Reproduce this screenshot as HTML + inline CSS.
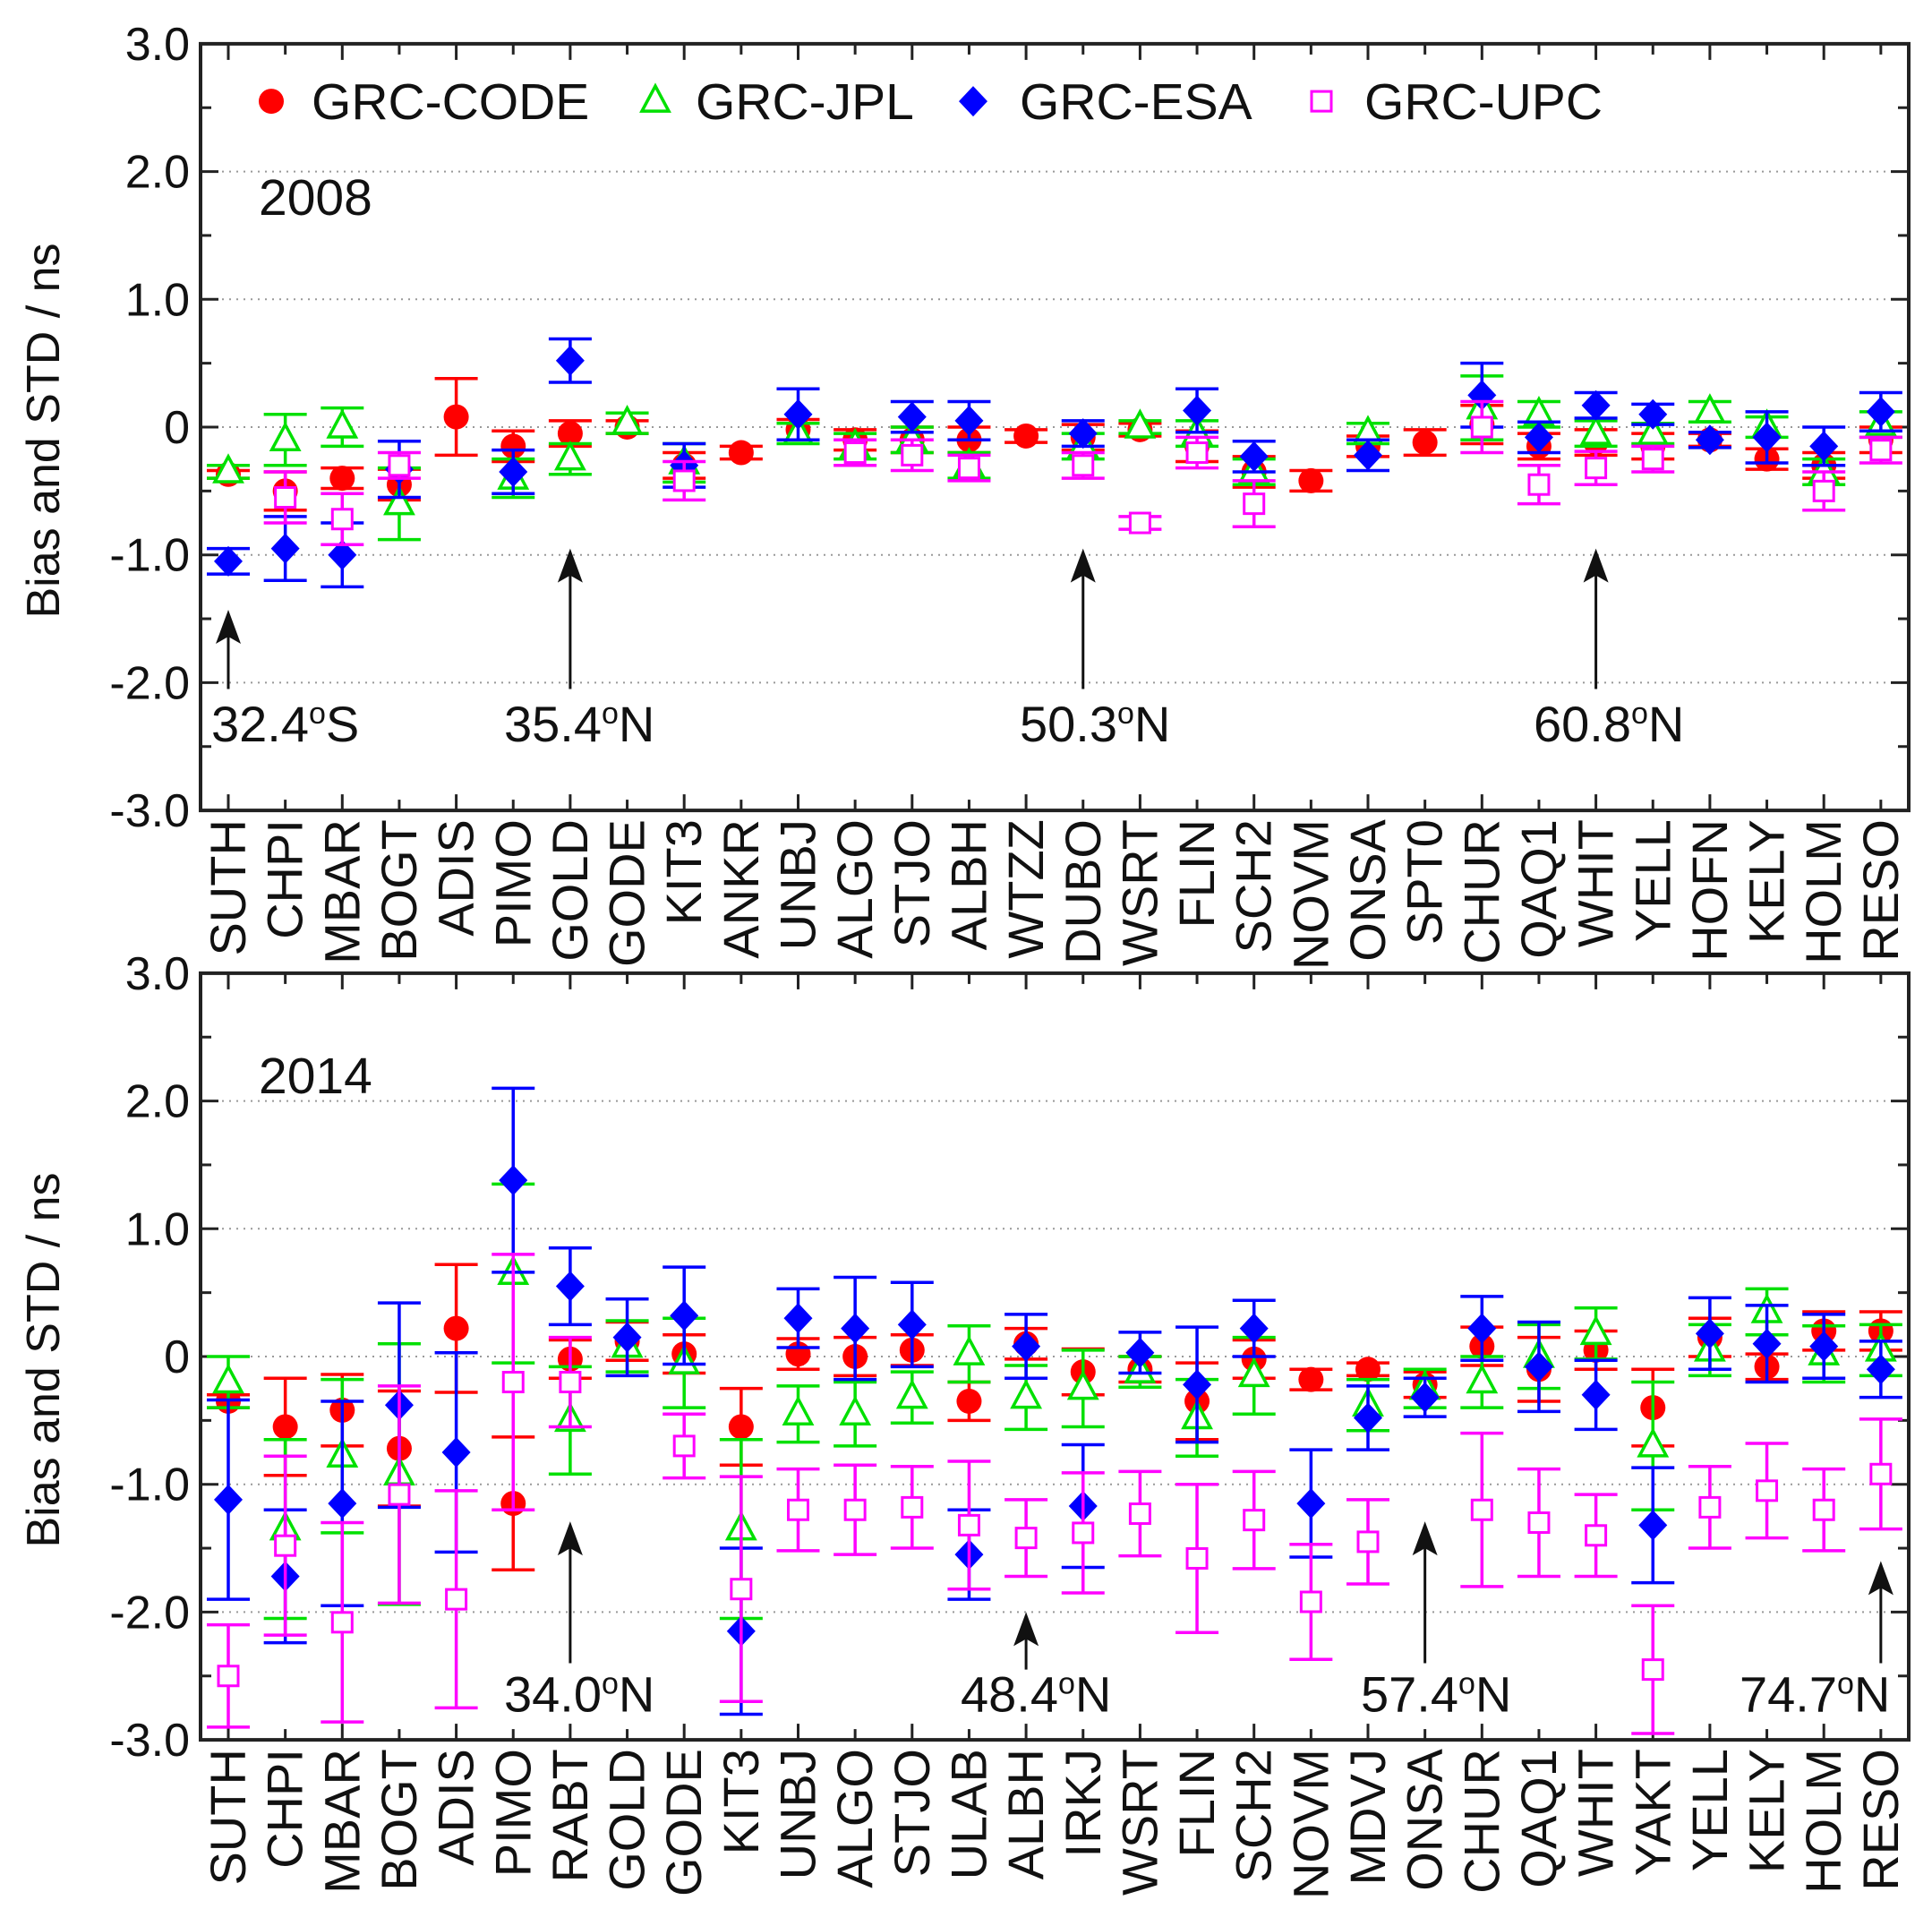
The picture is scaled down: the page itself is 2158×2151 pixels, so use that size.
<!DOCTYPE html>
<html><head><meta charset="utf-8"><style>
html,body{margin:0;padding:0;background:#fff;}
svg{display:block;font-family:"Liberation Sans",Arial,sans-serif;}
</style></head><body>
<svg id="s" width="2158" height="2151" viewBox="0 0 2158 2151" xmlns="http://www.w3.org/2000/svg"></svg>
<script>
const S=document.getElementById('s');
let h='';
const L=224,R=2132,X0=255,DX=63.65,K=142.7;
const C={c:'#ff0000',j:'#00e000',e:'#0000ff',u:'#ff00ff'};
function panel(y0,stations,data,arrows,year,legend){
  const Y=v=>y0-v*K;
  const top=Y(3),bot=Y(-3);
  for(const v of [2,1,0,-1,-2]) h+=`<line x1="${L}" x2="${R}" y1="${Y(v)}" y2="${Y(v)}" stroke="#999" stroke-width="2" stroke-dasharray="2,6"/>`;
  for(let v=-3;v<=3;v+=0.5){const maj=Number.isInteger(v);const l=maj?20:12;
    h+=`<line x1="${L}" x2="${L+l}" y1="${Y(v)}" y2="${Y(v)}" stroke="#222" stroke-width="3"/>`;
    h+=`<line x1="${R}" x2="${R-l}" y1="${Y(v)}" y2="${Y(v)}" stroke="#222" stroke-width="3"/>`;
    if(maj){const t=v===0?'0':v.toFixed(1);h+=`<text x="212" y="${Y(v)+18}" font-size="52" text-anchor="end" fill="#111">${t}</text>`;}
  }
  stations.forEach((s,i)=>{const x=X0+i*DX;const l=i%2?12:18;
    h+=`<line x1="${x}" x2="${x}" y1="${bot}" y2="${bot-l}" stroke="#222" stroke-width="3"/>`;
    h+=`<line x1="${x}" x2="${x}" y1="${top}" y2="${top+l}" stroke="#222" stroke-width="3"/>`;
    h+=`<text transform="translate(${x+19},${bot+10}) rotate(-90)" font-size="56" text-anchor="end" fill="#111">${s}</text>`;
  });
  h+=`<rect x="${L}" y="${top}" width="${R-L}" height="${bot-top}" fill="none" stroke="#222" stroke-width="4"/>`;
  h+=`<text transform="translate(66,${y0+4}) rotate(-90)" font-size="52" text-anchor="middle" fill="#111">Bias and STD / ns</text>`;
  h+=`<text x="289" y="${Y(year[1])+20}" font-size="57" fill="#111">${year[0]}</text>`;
  for(const a of arrows){const x=X0+a[0]*DX;
    h+=`<line x1="${x}" x2="${x}" y1="${Y(a[2])}" y2="${Y(a[1])+20}" stroke="#111" stroke-width="3"/>`;
    h+=`<polygon points="${x},${Y(a[1])} ${x-14},${Y(a[1])+38} ${x},${Y(a[1])+30} ${x+14},${Y(a[1])+38}" fill="#111"/>`;
    h+=`<text x="${a[3]}" y="${Y(a[4])+20}" font-size="56" fill="#111">${a[5]}<tspan font-size="34" dy="-20">o</tspan><tspan dy="20">${a[6]}</tspan></text>`;
  }
  const order=['c','j','e','u'];
  order.forEach((k,ki)=>{
    data.forEach((d,i)=>{const p=d[ki];if(!p)return;const x=X0+i*DX,y=Y(p[0]),e=p[1]*K,col=C[k];
      h+=`<g stroke="${col}" stroke-width="3.5"><line x1="${x}" x2="${x}" y1="${y-e}" y2="${y+e}"/><line x1="${x-24}" x2="${x+24}" y1="${y-e}" y2="${y-e}"/><line x1="${x-24}" x2="${x+24}" y1="${y+e}" y2="${y+e}"/></g>`;
      h+=marker(k,x,y);
    });
  });
  if(legend){const y=Y(2.55);
    const items=[['c',303,'GRC-CODE',348],['j',732,'GRC-JPL',777],['e',1087,'GRC-ESA',1139],['u',1476,'GRC-UPC',1524]];
    for(const it of items){h+=marker(it[0],it[1],y);h+=`<text x="${it[3]}" y="${y+20}" font-size="57" fill="#111">${it[2]}</text>`;}
  }
}
function marker(k,x,y){const c=C[k];
  if(k==='c')return `<circle cx="${x}" cy="${y}" r="14" fill="${c}"/>`;
  if(k==='j')return `<polygon points="${x},${y-17} ${x-15},${y+11} ${x+15},${y+11}" fill="#fff" stroke="${c}" stroke-width="3.5"/>`;
  if(k==='e')return `<polygon points="${x},${y-17} ${x+16},${y} ${x},${y+17} ${x-16},${y}" fill="${c}"/>`;
  return `<rect x="${x-11}" y="${y-11}" width="22" height="22" fill="#fff" stroke="${c}" stroke-width="3"/>`;
}
const st1=['SUTH','CHPI','MBAR','BOGT','ADIS','PIMO','GOLD','GODE','KIT3','ANKR','UNBJ','ALGO','STJO','ALBH','WTZZ','DUBO','WSRT','FLIN','SCH2','NOVM','ONSA','SPT0','CHUR','QAQ1','WHIT','YELL','HOFN','KELY','HOLM','RESO'];
const d1=[
[[-0.37,.03],[-0.35,.05],[-1.05,.1],null],
[[-0.5,.15],[-0.1,.2],[-0.95,.25],[-0.55,.2]],
[[-0.4,.08],[0,.15],[-1,.25],[-0.72,.2]],
[[-0.45,.12],[-0.6,.28],[-0.33,.22],[-0.3,.1]],
[[0.08,.3],null,null,null],
[[-0.15,.12],[-0.4,.15],[-0.35,.17],null],
[[-0.05,.1],[-0.25,.12],[0.52,.17],null],
[[0,.05],[0.03,.08],null,null],
[[-0.3,.1],[-0.28,.15],[-0.3,.17],[-0.42,.15]],
[[-0.2,.05],null,null,null],
[[-0.02,.08],[-0.05,.08],[0.1,.2],null],
[[-0.1,.08],[-0.15,.1],null,[-0.2,.1]],
[[-0.1,.1],[-0.1,.1],[0.08,.12],[-0.22,.12]],
[[-0.1,.1],[-0.3,.1],[0.05,.15],[-0.32,.1]],
[[-0.07,.05],null,null,null],
[[-0.08,.1],[-0.15,.1],[-0.05,.1],[-0.3,.1]],
[[-0.02,.05],[0,.05],null,[-0.75,.05]],
[[-0.15,.12],[-0.05,.1],[0.13,.17],[-0.2,.12]],
[[-0.35,.12],[-0.35,.1],[-0.23,.12],[-0.6,.18]],
[[-0.42,.08],null,null,null],
[[-0.15,.08],[-0.05,.08],[-0.22,.12],null],
[[-0.12,.1],null,null,null],
[[0.02,.15],[0.15,.25],[0.25,.25],[0,.2]],
[[-0.15,.1],[0.1,.1],[-0.08,.12],[-0.45,.15]],
[[-0.12,.1],[-0.05,.1],[0.17,.1],[-0.32,.13]],
[[-0.15,.1],[-0.05,.08],[0.1,.08],[-0.25,.1]],
[[-0.1,.05],[0.12,.08],[-0.1,.06],null],
[[-0.25,.08],[0,.08],[-0.08,.2],null],
[[-0.3,.1],[-0.35,.1],[-0.15,.15],[-0.5,.15]],
[[-0.1,.1],[0.02,.1],[0.12,.15],[-0.18,.1]]];
const st2=['SUTH','CHPI','MBAR','BOGT','ADIS','PIMO','RABT','GOLD','GODE','KIT3','UNBJ','ALGO','STJO','ULAB','ALBH','IRKJ','WSRT','FLIN','SCH2','NOVM','MDVJ','ONSA','CHUR','QAQ1','WHIT','YAKT','YELL','KELY','HOLM','RESO'];
const d2=[
[[-0.35,.05],[-0.2,.2],[-1.12,.78],[-2.5,.4]],
[[-0.55,.38],[-1.35,.7],[-1.72,.52],[-1.48,.7]],
[[-0.42,.28],[-0.78,.6],[-1.15,.8],[-2.08,.78]],
[[-0.72,.45],[-0.92,1.02],[-0.38,.8],[-1.08,.85]],
[[0.22,.5],null,[-0.75,.78],[-1.9,.85]],
[[-1.15,.52],[0.65,.7],[1.38,.72],[-0.2,1.0]],
[[-0.02,.15],[-0.5,.42],[0.55,.3],[-0.2,.35]],
[[0.12,.15],[0.08,.2],[0.15,.3],null],
[[0.02,.15],[-0.05,.35],[0.32,.38],[-0.7,.25]],
[[-0.55,.3],[-1.35,.7],[-2.15,.65],[-1.82,.88]],
[[0.02,.12],[-0.45,.22],[0.3,.23],[-1.2,.32]],
[[0,.15],[-0.45,.25],[0.22,.4],[-1.2,.35]],
[[0.05,.12],[-0.32,.2],[0.25,.33],[-1.18,.32]],
[[-0.35,.15],[0.02,.22],[-1.55,.35],[-1.32,.5]],
[[0.1,.12],[-0.32,.25],[0.08,.25],[-1.42,.3]],
[[-0.12,.18],[-0.25,.3],[-1.17,.48],[-1.38,.47]],
[[-0.1,.1],[-0.12,.12],[0.03,.16],[-1.23,.33]],
[[-0.35,.3],[-0.48,.3],[-0.22,.45],[-1.58,.58]],
[[-0.02,.15],[-0.15,.3],[0.22,.22],[-1.28,.38]],
[[-0.18,.08],null,[-1.15,.42],[-1.92,.45]],
[[-0.1,.05],[-0.38,.2],[-0.48,.25],[-1.45,.33]],
[[-0.22,.1],[-0.25,.15],[-0.32,.15],null],
[[0.08,.15],[-0.2,.2],[0.22,.25],[-1.2,.6]],
[[-0.1,.25],[0,.25],[-0.08,.35],[-1.3,.42]],
[[0.05,.15],[0.18,.2],[-0.3,.27],[-1.4,.32]],
[[-0.4,.3],[-0.7,.5],[-1.32,.45],[-2.45,.5]],
[[0.15,.15],[0.05,.2],[0.18,.28],[-1.18,.32]],
[[-0.08,.1],[0.35,.18],[0.1,.3],[-1.05,.37]],
[[0.2,.15],[0.02,.22],[0.08,.25],[-1.2,.32]],
[[0.2,.15],[0.05,.2],[-0.1,.22],[-0.92,.43]]];
panel(477,st1,d1,[[0,-1.43,-2.05,236,-2.32,'32.4','S'],[6,-0.95,-2.05,563,-2.32,'35.4','N'],[15,-0.95,-2.05,1139,-2.32,'50.3','N'],[24,-0.95,-2.05,1713,-2.32,'60.8','N']],['2008',1.8],true);
panel(1515,st2,d2,[[6,-1.29,-2.4,563,-2.64,'34.0','N'],[14,-2.0,-2.45,1073,-2.64,'48.4','N'],[21,-1.29,-2.4,1520,-2.64,'57.4','N'],[29,-1.6,-2.4,1943,-2.64,'74.7','N']],['2014',2.2],false);
S.innerHTML=h;
</script>
</body></html>
